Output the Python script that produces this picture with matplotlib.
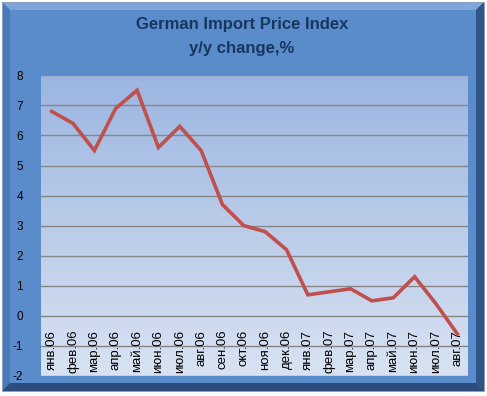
import matplotlib
matplotlib.use("Agg")
import matplotlib.pyplot as plt
import numpy as np
from matplotlib.patches import Polygon, Rectangle
from matplotlib.colors import to_rgb

# data
months = ["янв.06", "фев.06", "мар.06", "апр.06", "май.06", "июн.06", "июл.06",
          "авг.06", "сен.06", "окт.06", "ноя.06", "дек.06", "янв.07", "фев.07",
          "мар.07", "апр.07", "май.07", "июн.07", "июл.07", "авг.07"]
change = [6.8, 6.4, 5.5, 6.9, 7.5, 5.6, 6.3, 5.5, 3.7, 3.0, 2.8, 2.2,
          0.7, 0.8, 0.9, 0.5, 0.6, 1.3, 0.4, -0.6]
yticks = list(range(-2, 9))

W, H = 487, 396
fig = plt.figure(figsize=(W / 100, H / 100), dpi=100)
fig.patch.set_facecolor("white")

# background frame with bevel (pixel coordinates)
bg = fig.add_axes([0, 0, 1, 1], zorder=-10)
bg.set_xlim(0, W)
bg.set_ylim(H, 0)
bg.axis("off")
x0, y0, x1, y1 = 2, 2, 484, 391
b = 8
bg.add_patch(Rectangle((x0, y0), x1 - x0, y1 - y0, color="#5a8bcb", lw=0))
bg.add_patch(Polygon([(x0, y0), (x1, y0), (x1 - b, y0 + b), (x0 + b, y0 + b)],
                     color="#7fa6dc", lw=0))
bg.add_patch(Polygon([(x0, y0), (x0 + b, y0 + b), (x0 + b, y1 - b), (x0, y1)],
                     color="#4a78b8", lw=0))
bg.add_patch(Polygon([(x1, y0), (x1, y1), (x1 - b, y1 - b), (x1 - b, y0 + b)],
                     color="#2f5487", lw=0))
bg.add_patch(Polygon([(x0, y1), (x1, y1), (x1 - b, y1 - b), (x0 + b, y1 - b)],
                     color="#2b4c7c", lw=0))
bg.add_patch(Rectangle((x0, y0), x1 - x0, y1 - y0, fill=False,
                       edgecolor="#8aa0bd", lw=0.75))

# plot area
ax = fig.add_axes([41 / W, 1 - 376 / H, (468 - 41) / W, (376 - 75.3) / H])
ax.set_xlim(-0.5, len(months) - 0.5)
ax.set_ylim(-2, 8)

top = np.array(to_rgb("#9cb6e1"))
bot = np.array(to_rgb("#d8e2f2"))
t = np.linspace(0, 1, 256)[:, None]
grad = top + (bot - top) * t
ax.imshow(grad[:, None, :], extent=[-0.5, len(months) - 0.5, -2, 8],
          aspect="auto", zorder=0, interpolation="bilinear")

for v in yticks:
    ax.axhline(v, color="#868686", lw=1.0, zorder=1)

x = np.arange(len(months))
ax.plot(x, change, color="#c0504d", lw=2.6, zorder=3, solid_joinstyle="miter")

for s in ax.spines.values():
    s.set_visible(False)
ax.spines["bottom"].set_position(("data", 0))
ax.set_yticks(yticks)
ax.set_yticklabels([str(v) for v in yticks], fontsize=8.5, family="Liberation Sans")
ax.set_xticks(x)
ax.set_xticklabels(months, rotation=90, fontsize=9.5, family="Liberation Sans")
ax.tick_params(axis="y", length=0, pad=13)
ax.tick_params(axis="x", length=0, pad=10)

fig.text(242 / W, 1 - 25 / H, "German Import Price Index", ha="center", va="center",
         fontsize=12, fontweight="bold", color="#17375e", family="Liberation Sans")
fig.text(242 / W, 1 - 48 / H, "y/y change,%", ha="center", va="center",
         fontsize=12, fontweight="bold", color="#17375e", family="Liberation Sans")

fig.savefig("out.png", dpi=100, facecolor=fig.get_facecolor())
